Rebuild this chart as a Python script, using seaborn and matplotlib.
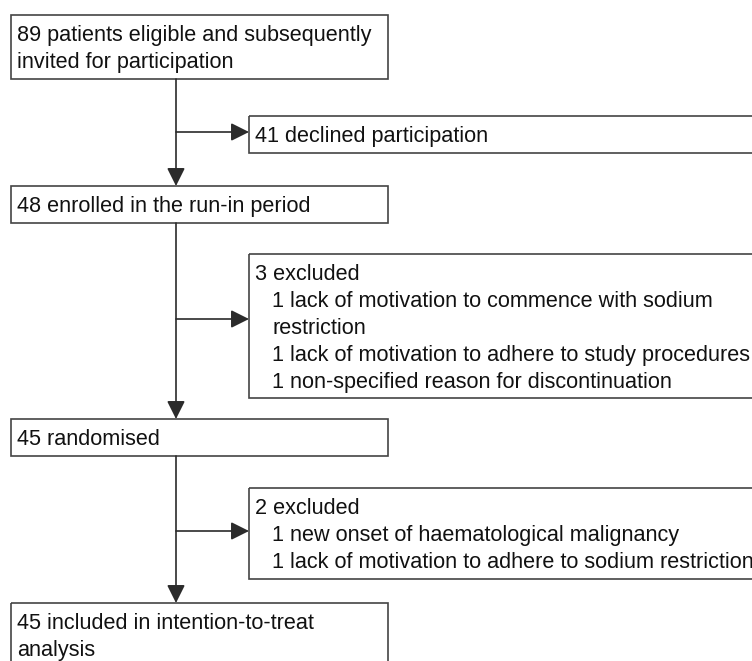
import matplotlib
matplotlib.use("Agg")
import matplotlib.pyplot as plt
from matplotlib.patches import Rectangle
import seaborn as sns

sns.set_style("white")
plt.rcParams["font.family"] = ["Liberation Sans", "DejaVu Sans"]

# flow counts and texts
main_counts = [89, 48, 45, 45]
main_texts = [
    ["89 patients eligible and subsequently", "invited for participation"],
    ["48 enrolled in the run-in period"],
    ["45 randomised"],
    ["45 included in intention-to-treat", "analysis"],
]
side_counts = [41, 3, 2]
side_heads = ["41 declined participation", "3 excluded", "2 excluded"]
side_items = [
    [],
    ["1 lack of motivation to commence with sodium", "restriction",
     "1 lack of motivation to adhere to study procedures",
     "1 non-specified reason for discontinuation"],
    ["1 new onset of haematological malignancy",
     "1 lack of motivation to adhere to sodium restriction"],
]

# layout (pixels)
main_box = [(15, 79), (186, 223), (419, 456), (603, 680)]
side_box = [(116, 153), (254, 398), (488, 579)]
main_x0, main_x1 = 11, 388
side_x0, side_x1 = 249, 770
stem_x = 176
line_col = "#2b2b2b"
box_col = "#444444"
txt_col = "#111111"
fs = 15.6
first_base = 26
line_step = 27

fig = plt.figure(figsize=(7.52, 6.61), dpi=100)
ax = fig.add_axes([0, 0, 1, 1])
ax.set_xlim(0, 752)
ax.set_ylim(661, 0)
ax.axis("off")


def draw_box(x0, x1, top, bottom):
    ax.add_patch(Rectangle((x0, top), x1 - x0, bottom - top, fill=False,
                           edgecolor=box_col, linewidth=1.2, clip_on=True))


def arrow(x0, y0, x1, y1):
    ax.annotate("", xy=(x1, y1), xytext=(x0, y0),
                arrowprops=dict(arrowstyle="-|>,head_length=1.1,head_width=0.55",
                                mutation_scale=10, color=line_col, lw=1.2,
                                shrinkA=0, shrinkB=0))


for (top, bottom), lines in zip(main_box, main_texts):
    draw_box(main_x0, main_x1, top, bottom)
    for i, s in enumerate(lines):
        ax.text(main_x0 + 6, top + first_base + i * line_step, s, fontsize=fs,
                color=txt_col, va="baseline", ha="left")

for (top, bottom), head, items in zip(side_box, side_heads, side_items):
    draw_box(side_x0, side_x1, top, bottom)
    ax.text(side_x0 + 6, top + first_base, head, fontsize=fs, color=txt_col,
            va="baseline", ha="left")
    for i, s in enumerate(items):
        ax.text(side_x0 + 23, top + first_base + (i + 1) * line_step, s,
                fontsize=fs, color=txt_col, va="baseline", ha="left")

# connectors
for k, (top, bottom) in enumerate(side_box):
    y_from = main_box[k][1]
    y_to = main_box[k + 1][0]
    arrow(stem_x, y_from, stem_x, y_to)
    y_mid = (top + bottom) / 2 if k == 0 else (top + bottom) / 2
    branch_y = [132, 319, 531][k]
    arrow(stem_x, branch_y, side_x0, branch_y)

fig.savefig("out.png", dpi=100, facecolor="white")
